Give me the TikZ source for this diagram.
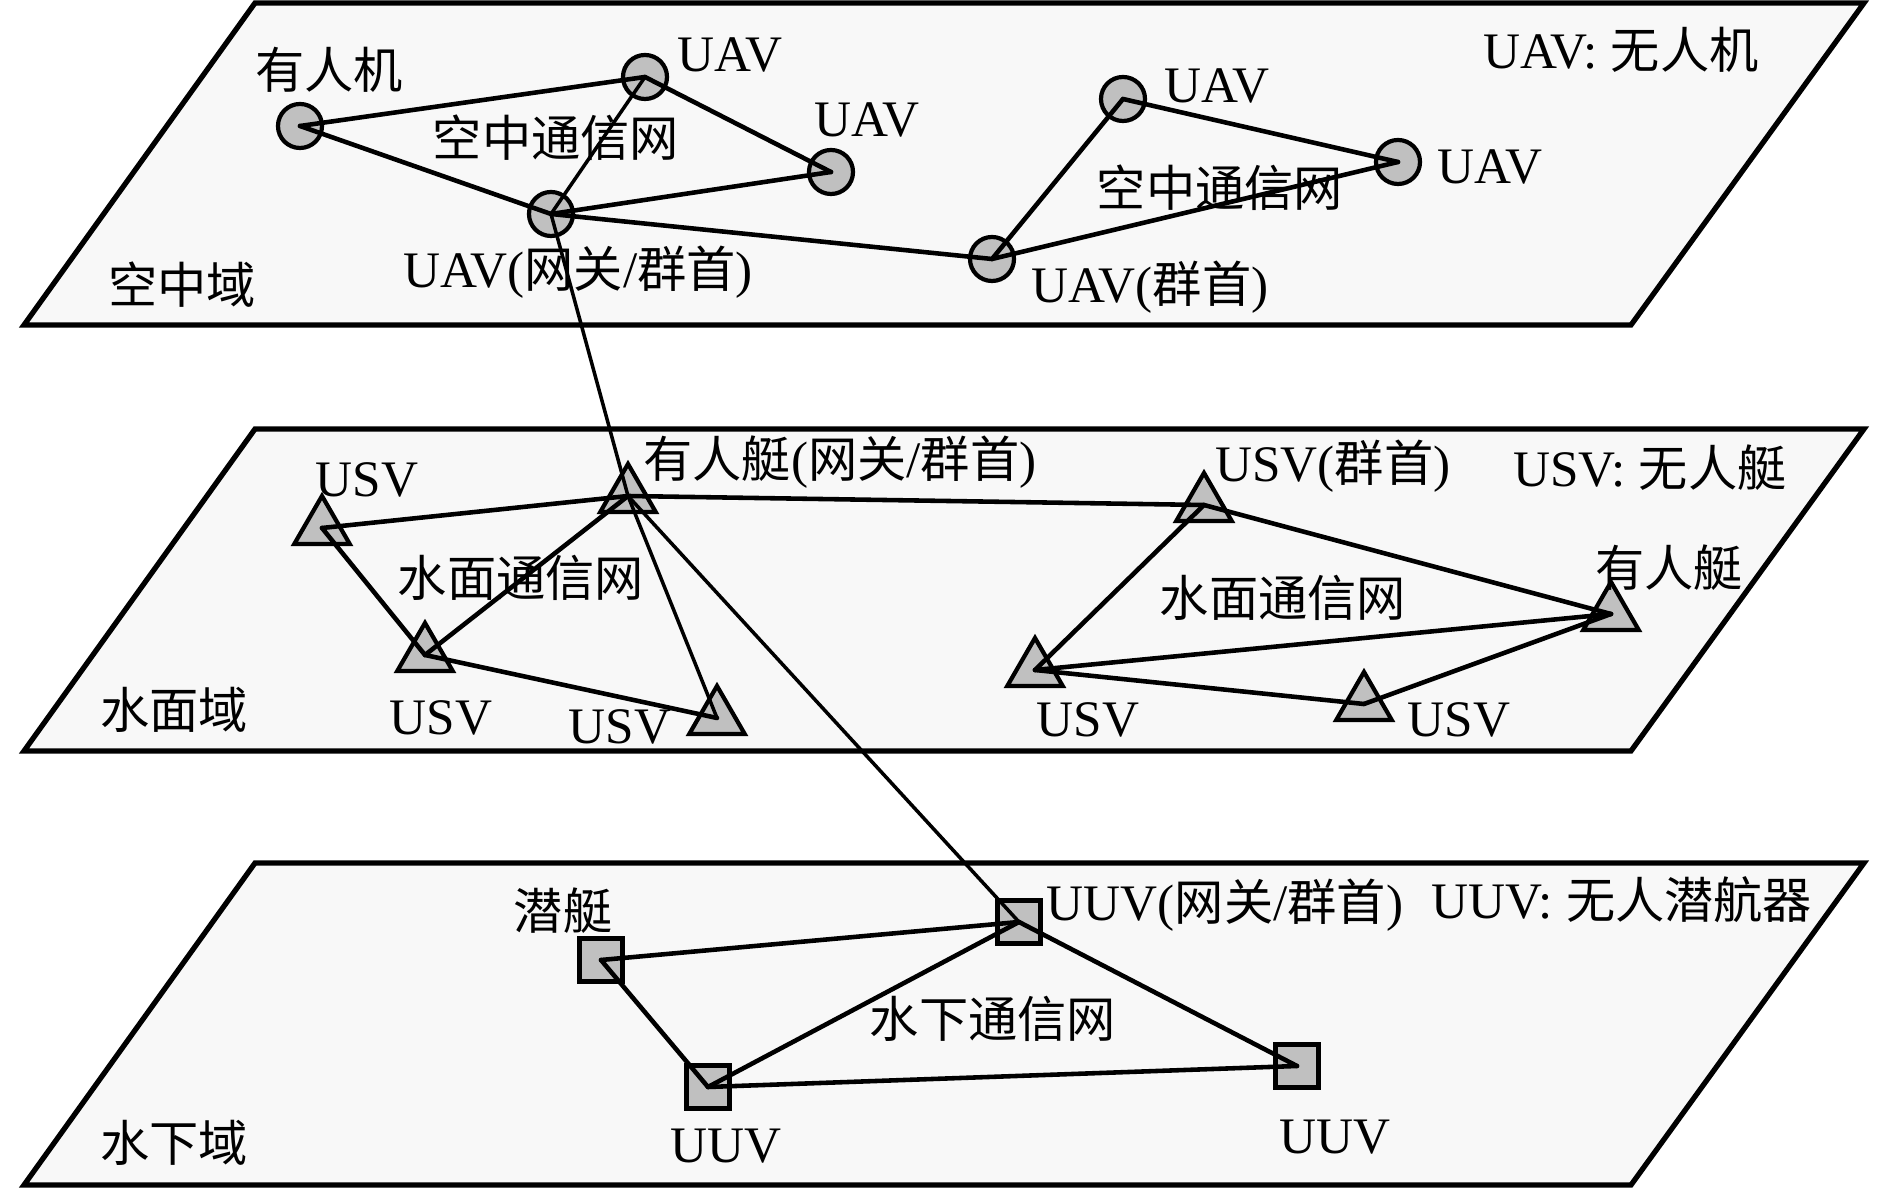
\documentclass[tikz,border=0pt]{standalone}
\usepackage{fontspec}
\setmainfont[Scale=1.04]{Liberation Serif}
\newfontfamily\cjk{Noto Sans CJK SC}
\usetikzlibrary{shapes.geometric}
\definecolor{planefill}{HTML}{F8F8F8}
\definecolor{nodegray}{HTML}{C0C0C0}
\newcommand{\zh}[1]{{\cjk #1}}
\tikzset{
  plane/.style={draw=black, fill=planefill, line width=1.5pt, line join=miter},
  dev/.style={draw=black, fill=nodegray, line width=1.2pt, inner sep=0pt, outer sep=0pt},
  airnode/.style={dev, circle, minimum size=0.44cm},
  seanode/.style={dev, regular polygon, regular polygon sides=3, minimum size=0.64cm},
  subnode/.style={dev, rectangle, minimum size=0.43cm},
  lbl/.style={font=\fontsize{14}{16}\selectfont, inner sep=0pt},
  link/.style={line width=1.3pt, line cap=round},
  thinlink/.style={line width=1.0pt, line cap=round},
}

\begin{document}
\begin{tikzpicture}[x=0.01cm, y=-0.01cm]
        \useasboundingbox (0,0) rectangle (1890,1189);
        \foreach \y in {3,429,863}
          \draw[plane] (255,\y) -- (1864,\y) -- (1631,\y+322) -- (24,\y+322) -- cycle;

        % air domain
        \node[airnode] (a0) at (300,126) {};
        \node[airnode] (a1) at (645,77) {};
        \node[airnode] (a2) at (831,172) {};
        \node[airnode] (ag) at (551,214) {};
        \node[airnode] (ah) at (992,259) {};
        \node[airnode] (a3) at (1123,99) {};
        \node[airnode] (a4) at (1398,162) {};
        \node[lbl] (la0) at (329,70) {\zh{有人机}};
        \node[lbl] (la1) at (730,55) {UAV};
        \node[lbl] (la2) at (867,120) {UAV};
        \node[lbl] (lag) at (578,272) {UAV(\zh{网关}/\zh{群首})};
        \node[lbl] (na1) at (556,138) {\zh{空中通信网}};
        \node[lbl] (la3) at (1217,86) {UAV};
        \node[lbl] (la4) at (1490,167) {UAV};
        \node[lbl] (lah) at (1150,287) {UAV(\zh{群首})};
        \node[lbl] (na2) at (1220,188) {\zh{空中通信网}};
        \node[lbl] (ka) at (1621,50) {UAV: \zh{无人机}};
        \node[lbl] (da) at (182,285) {\zh{空中域}};

        % surface domain
        \node[seanode] (sg) at (628,496) {};
        \node[seanode] (s1) at (322,528) {};
        \node[seanode] (s2) at (425,655) {};
        \node[seanode] (s3) at (717,718) {};
        \node[seanode] (sh) at (1204,505) {};
        \node[seanode] (sm) at (1611,614) {};
        \node[seanode] (s4) at (1035,670) {};
        \node[seanode] (s5) at (1364,704) {};
        \node[lbl] (lsg) at (840,462) {\zh{有人艇}(\zh{网关}/\zh{群首})};
        \node[lbl] (ls1) at (367,480) {USV};
        \node[lbl] (ls2) at (441,718) {USV};
        \node[lbl] (ls3) at (620,727) {USV};
        \node[lbl] (ns1) at (521,578) {\zh{水面通信网}};
        \node[lbl] (lsh) at (1333,466) {USV(\zh{群首})};
        \node[lbl] (lsm) at (1669,568) {\zh{有人艇}};
        \node[lbl] (ns2) at (1283,598) {\zh{水面通信网}};
        \node[lbl] (ls4) at (1088,720) {USV};
        \node[lbl] (ls5) at (1459,720) {USV};
        \node[lbl] (ks) at (1650,468) {USV: \zh{无人艇}};
        \node[lbl] (ds) at (174,710) {\zh{水面域}};

        % underwater domain
        \node[subnode] (sb) at (601,960) {};
        \node[subnode] (u1) at (708,1087) {};
        \node[subnode] (ug) at (1019,922) {};
        \node[subnode] (u2) at (1297,1066) {};
        \node[lbl] (lsb) at (563,911) {\zh{潜艇}};
        \node[lbl] (lu1) at (726,1146) {UUV};
        \node[lbl] (lug) at (1225,905) {UUV(\zh{网关}/\zh{群首})};
        \node[lbl] (nu) at (993,1019) {\zh{水下通信网}};
        \node[lbl] (lu2) at (1335,1137) {UUV};
        \node[lbl] (ku) at (1622,900) {UUV: \zh{无人潜航器}};
        \node[lbl] (du) at (174,1143) {\zh{水下域}};

        \draw[link] (a0.center) -- (a1.center);
        \draw[link] (a0.center) -- (ag.center);
        \draw[link] (a1.center) -- (a2.center);
        \draw[thinlink] (a1.center) -- (ag.center);
        \draw[link] (ag.center) -- (a2.center);
        \draw[link] (ag.center) -- (ah.center);
        \draw[link] (ah.center) -- (a3.center);
        \draw[link] (a3.center) -- (a4.center);
        \draw[link] (ah.center) -- (a4.center);

        \draw[link] (s1.center) -- (sg.center);
        \draw[link] (s1.center) -- (s2.center);
        \draw[link] (s2.center) -- (sg.center);
        \draw[link] (s2.center) -- (s3.center);
        \draw[thinlink] (sg.center) -- (s3.center);
        \draw[link] (sg.center) -- (sh.center);
        \draw[link] (sh.center) -- (sm.center);
        \draw[link] (sh.center) -- (s4.center);
        \draw[link] (s4.center) -- (sm.center);
        \draw[link] (s4.center) -- (s5.center);
        \draw[link] (s5.center) -- (sm.center);

        \draw[link] (sb.center) -- (ug.center);
        \draw[link] (sb.center) -- (u1.center);
        \draw[link] (u1.center) -- (ug.center);
        \draw[link] (u1.center) -- (u2.center);
        \draw[link] (ug.center) -- (u2.center);

        \draw[thinlink] (ag.center) -- (sg.center);
        \draw[thinlink] (sg.center) -- (ug.center);
      \end{tikzpicture}
\end{document}
